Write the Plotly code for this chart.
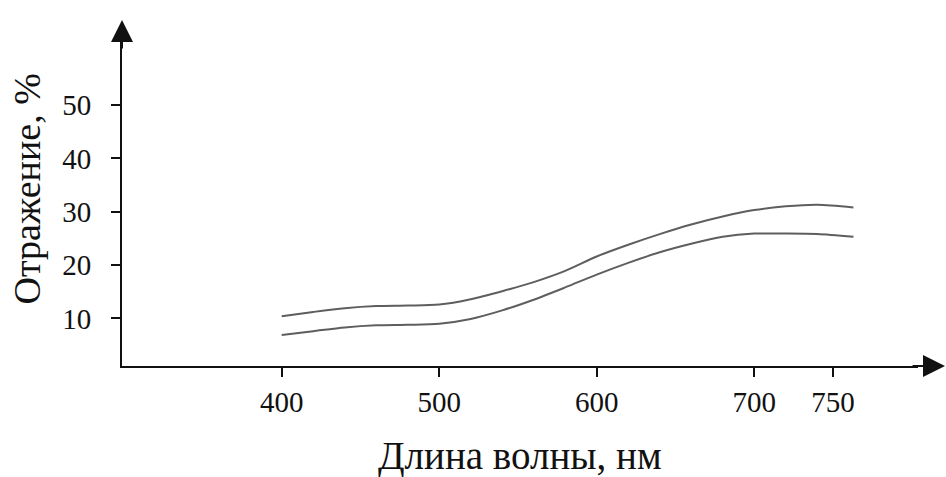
import plotly.graph_objects as go

# Wavelength grid (nm) and the two reflectance curves (%)
wavelength = [400, 420, 440, 460, 480, 500, 520, 540, 560, 580, 600, 620,
              640, 660, 680, 700, 720, 740, 763]
upper_curve = [10.4, 11.2, 11.9, 12.3, 12.4, 12.6, 13.6, 15.1, 16.8, 18.9,
               21.6, 23.8, 25.8, 27.6, 29.1, 30.3, 31.0, 31.3, 30.8]
lower_curve = [6.9, 7.6, 8.3, 8.7, 8.8, 9.0, 9.9, 11.5, 13.5, 15.8, 18.2,
               20.4, 22.4, 24.0, 25.3, 25.9, 25.9, 25.8, 25.3]

x_ticks = [400, 500, 600, 700, 750]
y_ticks = [10, 20, 30, 40, 50]

x_range = [298.6, 804]
y_range = [1.07, 64.07]

FONT = "Liberation Serif, Times New Roman, serif"
INK = "#111111"
CURVE = "#5e5e5e"

fig = go.Figure()
for series in (upper_curve, lower_curve):
    fig.add_trace(go.Scatter(
        x=wavelength, y=series, mode="lines",
        line=dict(color=CURVE, width=2, shape="spline", smoothing=0.8),
        showlegend=False, hoverinfo="skip",
    ))

# Arrowheads continuing both axes past the plotting area
fig.add_annotation(x=1.034, y=0, xref="paper", yref="paper",
                   ax=-34, ay=0, showarrow=True, arrowhead=2,
                   arrowsize=2.2, arrowwidth=2, arrowcolor=INK, text="")
fig.add_annotation(x=0, y=1.03, xref="paper", yref="paper",
                   ax=0, ay=30, showarrow=True, arrowhead=2,
                   arrowsize=2.2, arrowwidth=2, arrowcolor=INK, text="")

# Axis titles
fig.add_annotation(text="Длина волны, нм", xref="paper", yref="paper",
                   x=0.4994, y=-0.268, xanchor="center", yanchor="middle",
                   showarrow=False, font=dict(family=FONT, size=39, color=INK))
fig.add_annotation(text="Отражение, %", xref="paper", yref="paper",
                   x=-0.12, y=0.527, xanchor="center", yanchor="middle",
                   textangle=-90, showarrow=False,
                   font=dict(family=FONT, size=38, color=INK))

fig.update_xaxes(
    range=x_range, tickvals=x_ticks, ticktext=[str(v) for v in x_ticks],
    showline=True, linecolor=INK, linewidth=2, ticks="outside", ticklen=9,
    tickwidth=2, tickcolor=INK, showgrid=False, zeroline=False,
    tickfont=dict(family=FONT, size=29, color=INK),
)
fig.update_yaxes(
    range=y_range, tickvals=y_ticks, ticktext=[str(v) for v in y_ticks],
    showline=True, linecolor=INK, linewidth=2, ticks="outside", ticklen=9,
    tickwidth=2, tickcolor=INK, showgrid=False, zeroline=False,
    ticklabelstandoff=14,
    tickfont=dict(family=FONT, size=29, color=INK),
)

fig.update_layout(
    width=946, height=477,
    margin=dict(l=122, r=28, t=30, b=111),
    paper_bgcolor="white", plot_bgcolor="white",
)

fig.write_html("out.html")
